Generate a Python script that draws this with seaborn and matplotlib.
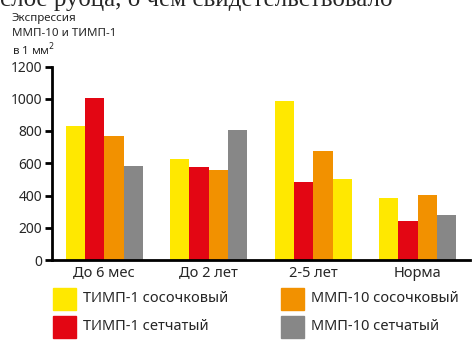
import matplotlib
matplotlib.use("Agg")
import matplotlib.pyplot as plt
import matplotlib.patches as mpatches
import seaborn as sns
import pandas as pd

categories = ["До 6 мес", "До 2 лет", "2-5 лет", "Норма"]
series = ["ТИМП-1 сосочковый", "ТИМП-1 сетчатый", "ММП-10 сосочковый", "ММП-10 сетчатый"]
timp_pap = [830, 625, 985, 385]
timp_ret = [1005, 578, 485, 242]
mmp_pap = [770, 560, 675, 402]
mmp_ret = [585, 805, 505, 280]
yticks = [0, 200, 400, 600, 800, 1000, 1200]

colors = ["#ffe800", "#e30613", "#f29100", "#878787"]

sns.set_theme(style="white")
plt.rcParams["font.family"] = ["Noto Sans", "DejaVu Sans"]

rows = []
for s, vals in zip(series, [timp_pap, timp_ret, mmp_pap, mmp_ret]):
    for c, v in zip(categories, vals):
        rows.append({"cat": c, "series": s, "value": v})
df = pd.DataFrame(rows)

fig = plt.figure(figsize=(4.72, 3.41), dpi=100)
ax = fig.add_axes([52 / 472, 1 - 260 / 341, 418 / 472, 193.5 / 341])

sns.barplot(data=df, x="cat", y="value", hue="series", hue_order=series,
            order=categories, palette=colors, width=0.74, ax=ax,
            saturation=1, legend=False, edgecolor="none", linewidth=0)

# в оригинале последний столбец группы "2-5 лет" жёлтый
bars = [p for p in ax.patches if isinstance(p, mpatches.Rectangle)]
bars[3 * len(categories) + 2].set_facecolor(colors[0])

ax.set_ylim(0, 1200)
ax.set_xlim(-0.5, 3.5)
ax.set_yticks(yticks)
ax.set_yticklabels([str(t) for t in yticks], fontsize=10, fontweight="semibold")
ax.set_xticks(range(len(categories)))
ax.set_xticklabels(categories, fontsize=10.5)
ax.tick_params(axis="x", which="major", length=0, pad=4)
ax.set_xticks([-0.5, 0.6, 1.6, 2.6], minor=True)
ax.tick_params(axis="x", which="minor", length=5, width=2, direction="inout", color="black")
ax.tick_params(axis="y", which="major", length=5, width=2, direction="out", color="black", pad=2, left=True)
ax.set_xlabel("")
ax.set_ylabel("")
for side in ["top", "right"]:
    ax.spines[side].set_visible(False)
for side in ["left", "bottom"]:
    ax.spines[side].set_color("black")
    ax.spines[side].set_linewidth(2)

fig.text(12 / 472, 1 - 18 / 341, "Экспрессия", fontsize=8.3, va="center")
fig.text(12 / 472, 1 - 34 / 341, "ММП-10 и ТИМП-1", fontsize=8.3, va="center")
fig.text(12 / 472, 1 - 50 / 341, "в 1 мм$^2$", fontsize=8.3, va="center")
fig.text(0, 1 + 1 / 341, "слое рубца, о чем свидетельствовало", fontsize=18,
         family="Liberation Serif", va="center", ha="left")

leg_pos = [(53, 299), (53, 327), (281, 299), (281, 327)]
for (x, y), c, s in zip(leg_pos, colors, series):
    fig.patches.append(mpatches.Rectangle((x / 472, 1 - (y + 11) / 341), 23 / 472, 22 / 341,
                                          transform=fig.transFigure, color=c))
    fig.text((x + 30) / 472, 1 - y / 341, s, fontsize=10.5, va="center")

fig.savefig("out.png", dpi=100)
